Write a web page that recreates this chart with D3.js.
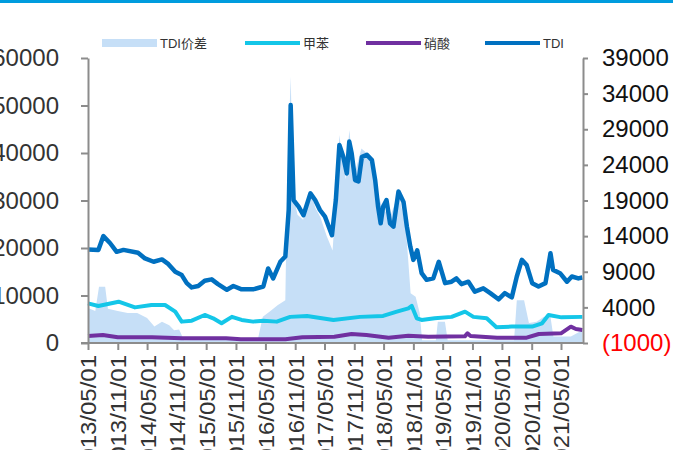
<!DOCTYPE html>
<html>
<head>
<meta charset="utf-8">
<script src="https://cdn.jsdelivr.net/npm/d3@7/dist/d3.min.js"></script>
<style>
  html, body { margin: 0; padding: 0; background: #fff; }
  svg { display: block; }
</style>
</head>
<body>
<svg id="chart" width="673" height="450"></svg>
<script>
// TDI price spread (right axis), yuan/ton
const tdiSpread = [
  ["2013-05-01", 3900], ["2013-06-15", 3500], ["2013-07-08", 6900], ["2013-08-15", 6900],
  ["2013-09-01", 3800], ["2013-11-01", 3500], ["2014-01-01", 3200], ["2014-03-01", 3200],
  ["2014-05-01", 2500], ["2014-06-15", 1300], ["2014-08-01", 2000], ["2014-09-15", 1500],
  ["2014-10-15", 800], ["2014-11-15", 900], ["2014-12-15", -600], ["2015-06-01", -500],
  ["2015-12-01", -600], ["2016-03-15", -500], ["2016-04-15", 2700], ["2016-06-01", 3500],
  ["2016-07-15", 4300], ["2016-09-01", 5000], ["2016-09-10", 18000], ["2016-09-25", 30000],
  ["2016-10-04", 36400], ["2016-10-20", 20000], ["2016-11-15", 17000], ["2016-12-20", 16300],
  ["2017-01-20", 19000], ["2017-02-05", 20200], ["2017-03-05", 18000], ["2017-04-05", 16700],
  ["2017-05-15", 14000], ["2017-06-20", 12000], ["2017-07-10", 19000], ["2017-08-01", 28200],
  ["2017-08-25", 24000], ["2017-09-10", 22000], ["2017-10-01", 28900], ["2017-10-20", 25000],
  ["2017-11-10", 23300], ["2017-12-15", 26300], ["2018-01-25", 25500], ["2018-02-25", 24700],
  ["2018-03-25", 20000], ["2018-05-01", 17600], ["2018-06-15", 17000], ["2018-08-01", 20000],
  ["2018-09-15", 15300], ["2018-10-15", 6000], ["2018-11-15", 5500], ["2018-12-10", 3200],
  ["2018-12-25", -600], ["2019-03-20", -600], ["2019-04-01", 2000], ["2019-05-15", 2000],
  ["2019-06-01", -600], ["2020-07-15", -600], ["2020-08-01", 5000], ["2020-09-15", 5000],
  ["2020-10-15", 1800], ["2020-12-01", 2000], ["2021-01-15", 2700], ["2021-02-25", 2700],
  ["2021-03-15", -100], ["2021-07-01", -100], ["2021-09-10", 800]
];

// Toluene price (left axis)
const toluene = [
  ["2013-05-01", 8350], ["2013-07-04", 7800], ["2013-11-06", 8700], ["2014-02-15", 7500],
  ["2014-05-28", 8000], ["2014-08-20", 8000], ["2014-10-22", 6600], ["2014-12-01", 4500],
  ["2015-02-01", 4700], ["2015-04-22", 5900], ["2015-06-13", 5200], ["2015-08-04", 4150],
  ["2015-10-07", 5500], ["2015-12-06", 4850], ["2016-02-15", 4500], ["2016-04-18", 4700],
  ["2016-07-10", 4500], ["2016-10-01", 5500], ["2017-01-13", 5700], ["2017-06-25", 4850],
  ["2017-12-06", 5500], ["2018-04-28", 5700], ["2018-07-22", 6600], ["2018-10-01", 7300],
  ["2018-10-22", 7800], ["2018-11-22", 5200], ["2018-12-22", 4850], ["2019-03-13", 5200],
  ["2019-06-25", 5500], ["2019-09-16", 6600], ["2019-11-07", 5500], ["2020-01-28", 5200],
  ["2020-03-28", 3300], ["2020-07-01", 3450], ["2020-11-04", 3450], ["2021-01-04", 4150],
  ["2021-02-13", 5900], ["2021-05-04", 5400], ["2021-09-10", 5500]
];

// Nitric acid price (left axis)
const nitricAcid = [
  ["2013-05-01", 1470], ["2013-08-01", 1680], ["2013-11-01", 1200], ["2014-06-01", 1200],
  ["2014-12-01", 990], ["2015-09-01", 990], ["2015-12-01", 780], ["2016-09-01", 780],
  ["2016-12-15", 1200], ["2017-07-01", 1330], ["2017-10-15", 1900], ["2018-01-15", 1680],
  ["2018-06-01", 1120], ["2018-10-01", 1540], ["2019-02-01", 1330], ["2019-09-15", 1400],
  ["2019-10-01", 2040], ["2019-10-20", 1470], ["2020-04-01", 1120], ["2020-10-01", 1120],
  ["2020-12-15", 1900], ["2021-05-01", 2040], ["2021-07-01", 3440], ["2021-08-01", 2950],
  ["2021-09-10", 2740]
];

// TDI price (left axis)
const tdiPrice = [
  ["2013-05-01", 19700], ["2013-07-04", 19600], ["2013-08-04", 22500], ["2013-09-15", 21000],
  ["2013-10-25", 19200], ["2013-12-06", 19600], ["2014-03-06", 19000], ["2014-04-18", 17800],
  ["2014-06-10", 17100], ["2014-08-01", 17600], ["2014-09-10", 16600], ["2014-10-22", 15000],
  ["2014-12-01", 14300], ["2015-01-01", 12600], ["2015-02-01", 11700], ["2015-03-13", 12000],
  ["2015-04-22", 13100], ["2015-06-04", 13400], ["2015-07-13", 12400], ["2015-09-06", 11200],
  ["2015-10-16", 12000], ["2015-12-06", 11300], ["2016-02-15", 11300], ["2016-04-18", 11900],
  ["2016-05-18", 15700], ["2016-06-18", 13600], ["2016-08-01", 17100], ["2016-09-01", 18200],
  ["2016-09-22", 28000], ["2016-10-04", 50100], ["2016-10-22", 30100], ["2016-11-22", 28700],
  ["2016-12-22", 26900], ["2017-02-03", 31500], ["2017-03-04", 30100], ["2017-04-03", 28000],
  ["2017-05-04", 26600], ["2017-06-16", 22700], ["2017-07-10", 30100], ["2017-08-01", 41700],
  ["2017-08-25", 39200], ["2017-09-16", 35700], ["2017-10-01", 42400], ["2017-10-16", 39900],
  ["2017-11-06", 34300], ["2017-11-27", 34000], ["2017-12-18", 39200], ["2018-01-18", 39600],
  ["2018-02-18", 38500], ["2018-03-10", 34300], ["2018-03-28", 28700], ["2018-04-13", 25200],
  ["2018-04-28", 28700], ["2018-05-19", 30100], ["2018-06-10", 25200], ["2018-07-01", 24500],
  ["2018-08-01", 31900], ["2018-09-01", 29700], ["2018-09-22", 24500], ["2018-10-13", 20300],
  ["2018-11-01", 17500], ["2018-11-25", 19500], ["2018-12-22", 14700], ["2019-01-22", 13300],
  ["2019-03-04", 13600], ["2019-04-07", 17100], ["2019-05-16", 12600], ["2019-06-25", 12900],
  ["2019-07-25", 13600], ["2019-08-25", 12400], ["2019-10-07", 12900], ["2019-11-16", 10800],
  ["2020-01-07", 11500], ["2020-02-19", 10500], ["2020-04-10", 9200], ["2020-05-19", 10500],
  ["2020-07-01", 9600], ["2020-08-01", 14000], ["2020-09-01", 17500], ["2020-10-01", 16400],
  ["2020-11-04", 12600], ["2020-12-13", 11900], ["2021-01-25", 12600], ["2021-02-25", 18900],
  ["2021-03-13", 15400], ["2021-04-25", 14700], ["2021-06-07", 12900], ["2021-07-07", 14000],
  ["2021-08-16", 13600], ["2021-09-10", 13800]
];

// Axis ticks
const xTickLabels = [
  "2013/05/01", "2013/11/01", "2014/05/01", "2014/11/01", "2015/05/01", "2015/11/01",
  "2016/05/01", "2016/11/01", "2017/05/01", "2017/11/01", "2018/05/01", "2018/11/01",
  "2019/05/01", "2019/11/01", "2020/05/01", "2020/11/01", "2021/05/01"
];
const leftTicks = [0, 10000, 20000, 30000, 40000, 50000, 60000];
const rightTicks = [-1000, 4000, 9000, 14000, 19000, 24000, 29000, 34000, 39000];

const legendLabels = ["TDI价差", "甲苯", "硝酸", "TDI"];
const colors = { spread: "#C6DFF7", toluene: "#14C6E8", nitric: "#7030A0", tdi: "#0070C0" };

const parse = d3.timeParse("%Y-%m-%d");
const parseTick = d3.timeParse("%Y/%m/%d");
const toPts = arr => arr.map(([d, v]) => ({ date: parse(d), value: v }));

const svg = d3.select("#chart");
const plot = { left: 88, right: 583, top: 58, bottom: 343 };

const tickDates = xTickLabels.map(parseTick);
const x = d3.scaleTime()
  .domain([tickDates[0], tickDates[tickDates.length - 1]])
  .range([plot.left, 561]);
const yL = d3.scaleLinear().domain([0, 60000]).range([plot.bottom, plot.top]);
const yR = d3.scaleLinear().domain([-1000, 39000]).range([plot.bottom, plot.top]);

// top rule
svg.append("rect").attr("x", 0).attr("y", 0).attr("width", 673).attr("height", 3)
  .attr("fill", "#009CDE");

// spread area on the secondary axis, filled down to the axis floor
svg.append("path")
  .datum(toPts(tdiSpread))
  .attr("fill", colors.spread)
  .attr("d", d3.area().x(d => x(d.date)).y0(yR(-1000)).y1(d => yR(d.value)));

const lineL = d3.line().x(d => x(d.date)).y(d => yL(d.value));
const drawLine = (data, color, w) => svg.append("path")
  .datum(toPts(data))
  .attr("fill", "none")
  .attr("stroke", color)
  .attr("stroke-width", w)
  .attr("stroke-linejoin", "round")
  .attr("d", lineL);

drawLine(toluene, colors.toluene, 4);
drawLine(nitricAcid, colors.nitric, 4);
drawLine(tdiPrice, colors.tdi, 4.5);

const axisColor = "#8C8C8C";
const styleAxis = (g, size) => {
  g.selectAll(".domain").attr("stroke", axisColor).attr("stroke-width", 2);
  g.selectAll(".tick line").attr("stroke", axisColor).attr("stroke-width", 2);
  g.selectAll("text").attr("font-family", "'Liberation Sans', Arial, sans-serif")
    .attr("font-size", size);
};

// left axis
const gL = svg.append("g").attr("transform", `translate(${plot.left},0)`)
  .call(d3.axisLeft(yL).tickValues(leftTicks).tickSize(7).tickSizeOuter(0)
    .tickPadding(22).tickFormat(d3.format("d")));
styleAxis(gL, 24);
gL.selectAll("text").attr("fill", "#333");

// right axis
const gR = svg.append("g").attr("transform", `translate(${plot.right},0)`)
  .call(d3.axisRight(yR).tickValues(rightTicks).tickSize(5).tickSizeOuter(0)
    .tickPadding(14).tickFormat(v => v < 0 ? `(${Math.abs(v)})` : d3.format("d")(v)));
styleAxis(gR, 24);
gR.selectAll("text").attr("fill", d => d < 0 ? "#FF0000" : "#111");

// bottom axis, dates read upward and stretched slightly along their length
const gB = svg.append("g").attr("transform", `translate(0,${plot.bottom})`)
  .call(d3.axisBottom(x).tickValues(tickDates).tickSize(7).tickSizeOuter(0)
    .tickFormat(d3.timeFormat("%Y/%m/%d")));
gB.select(".domain").attr("d", `M${plot.left - 7},0H${plot.right}`);
styleAxis(gB, 22);
gB.selectAll("text")
  .attr("fill", "#333")
  .attr("text-anchor", "end")
  .attr("transform", "translate(0,12) rotate(-90) scale(1.09,1)")
  .attr("x", 0).attr("y", 0).attr("dy", "0.36em");

// legend
const legend = svg.append("g")
  .attr("font-family", "'Liberation Sans', 'Noto Sans CJK SC', sans-serif")
  .attr("font-size", 13).attr("fill", "#333");
const legendX = [102, 245, 366, 485];
const legendKeys = ["spread", "toluene", "nitric", "tdi"];
legendLabels.forEach((label, i) => {
  const g = legend.append("g").attr("transform", `translate(${legendX[i]},43)`);
  if (i === 0) {
    g.append("rect").attr("x", 0).attr("y", -4).attr("width", 55).attr("height", 8)
      .attr("fill", colors.spread);
  } else {
    g.append("line").attr("x1", 0).attr("x2", 55).attr("y1", 0).attr("y2", 0)
      .attr("stroke", colors[legendKeys[i]]).attr("stroke-width", 4);
  }
  g.append("text").attr("x", 58).attr("y", 0).attr("dy", "0.35em").text(label);
});
</script>
</body>
</html>
